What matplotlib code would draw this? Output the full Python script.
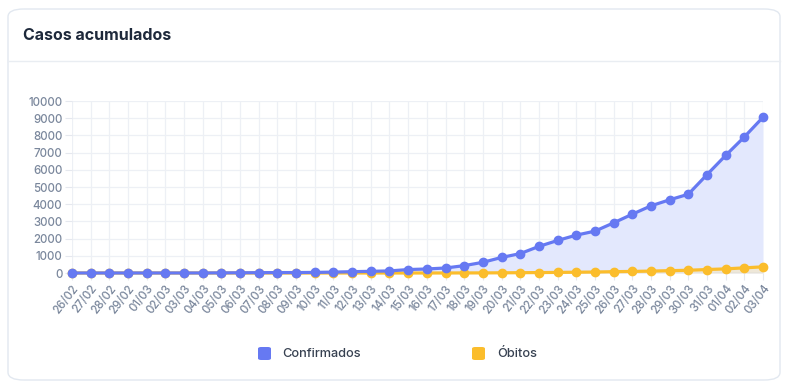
import matplotlib
matplotlib.use("Agg")
import matplotlib.pyplot as plt
from matplotlib.patches import FancyBboxPatch
from matplotlib.lines import Line2D

dates = ["26/02","27/02","28/02","29/02","01/03","02/03","03/03","04/03","05/03","06/03",
         "07/03","08/03","09/03","10/03","11/03","12/03","13/03","14/03","15/03","16/03",
         "17/03","18/03","19/03","20/03","21/03","22/03","23/03","24/03","25/03","26/03",
         "27/03","28/03","29/03","30/03","31/03","01/04","02/04","03/04"]
confirmados = [1,1,1,2,2,2,2,3,8,13,19,25,25,34,52,77,98,121,200,234,
               291,428,621,904,1128,1546,1891,2201,2433,2915,3417,3904,4256,4579,5717,6836,7910,9056]
obitos = [0,0,0,0,0,0,0,0,0,0,0,0,0,0,0,0,0,0,0,0,
          1,4,6,11,18,25,34,46,57,77,92,111,136,159,201,240,299,359]
yticks = [0,1000,2000,3000,4000,5000,6000,7000,8000,9000,10000]

plt.rcParams['font.family'] = ['Inter', 'DejaVu Sans']

W, H = 789, 385
fig = plt.figure(figsize=(W/100, H/100), dpi=100)

# card
card = FancyBboxPatch((8/W, 1-380/H), (780-8)/W, (380-9)/H,
                      boxstyle="round,pad=0,rounding_size=0.02",
                      transform=fig.transFigure, facecolor="white",
                      edgecolor="#e2e8f0", linewidth=1.0, zorder=-10)
fig.patches.append(card)
fig.add_artist(Line2D([8/W, 780/W], [1-61/H, 1-61/H], color="#e9edf2", lw=1.0, zorder=-5))
fig.text(23/W, 1-35/H, "Casos acumulados", fontsize=11.5, fontweight="bold",
         color="#1e293b", va="center", ha="left")

ax = fig.add_axes([72/W, 1-273/H, (763-72)/W, (273-101)/H])
ax.set_zorder(5)
ax.patch.set_alpha(0)
x = list(range(len(dates)))
blue = "#6679f2"
yellow = "#fbbd2c"
ax.fill_between(x, confirmados, 0, color="#e3e8fd", lw=0, zorder=1)
ax.fill_between(x, obitos, 0, color="#eee7d8", lw=0, zorder=1.5)
ax.plot(x, confirmados, color=blue, lw=2.3, marker="o", ms=6, zorder=3, clip_on=False)
ax.plot(x, obitos, color=yellow, lw=2.3, marker="o", ms=6, zorder=2.5, clip_on=False)

ax.set_xlim(0, len(dates)-1)
ax.set_ylim(0, 10000)
ax.set_yticks(yticks)
ax.set_yticklabels([str(v) for v in yticks])
ax.set_xticks(x)
ax.set_xticklabels(dates, rotation=52, ha="right", rotation_mode="anchor")
ax.grid(True, color="#edf0f5", lw=0.9, zorder=0)
ax.set_axisbelow(True)
for s in ax.spines.values():
    s.set_visible(False)
ax.axhline(0, color="#c9ced6", lw=1.0, zorder=1.8)
ax.tick_params(axis="both", colors="#e5e8ee", labelcolor="#7a879c", labelsize=8.3,
               length=5, width=0.8)
for lbl in ax.get_xticklabels() + ax.get_yticklabels():
    lbl.set_fontweight("medium")
ax.tick_params(axis="y", pad=2)
ax.tick_params(axis="x", pad=2)

# legend
fig.add_artist(FancyBboxPatch((258/W, 1-360/H), 13/W, 13/H,
               boxstyle="round,pad=0,rounding_size=0.004", transform=fig.transFigure,
               facecolor=blue, edgecolor="none"))
fig.text(282/W, 1-354/H, "Confirmados", fontsize=9.2, color="#374151", va="center", ha="left",
         fontweight="medium")
fig.add_artist(FancyBboxPatch((472/W, 1-360/H), 13/W, 13/H,
               boxstyle="round,pad=0,rounding_size=0.004", transform=fig.transFigure,
               facecolor=yellow, edgecolor="none"))
fig.text(497/W, 1-354/H, "Óbitos", fontsize=9.2, color="#374151", va="center", ha="left",
         fontweight="medium")

fig.savefig("out.png", dpi=100)
